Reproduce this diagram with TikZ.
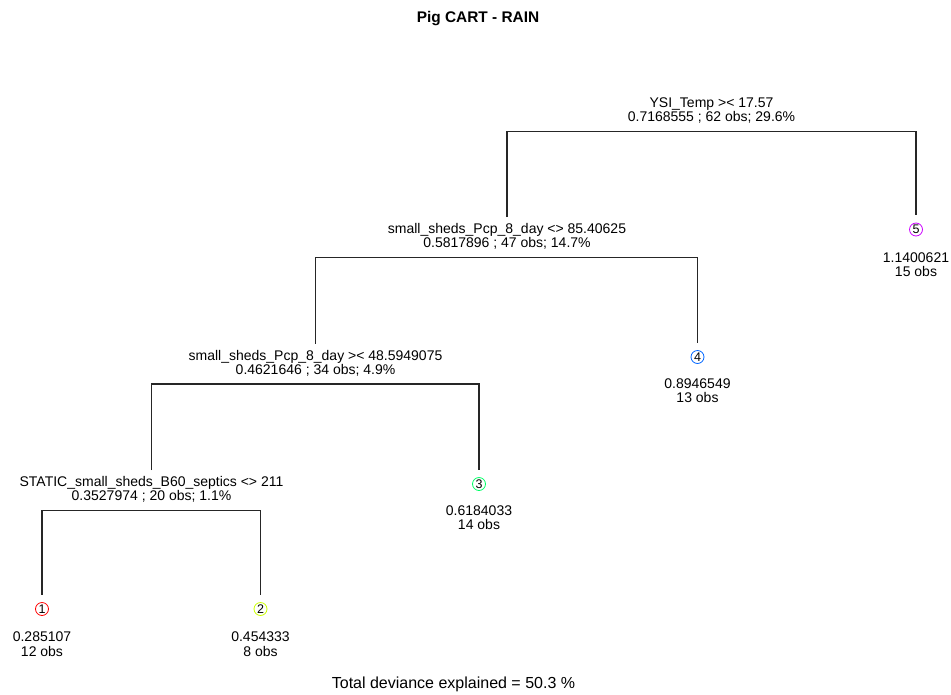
\documentclass[tikz,border=0pt]{standalone}
\usepackage{fontspec}
\setmainfont{Liberation Sans}
\begin{document}
\begin{tikzpicture}[x=1pt,y=-1pt,
  lbl/.style={font=\fontsize{14}{14}\selectfont, inner sep=0pt, anchor=base, text=black},
  edge/.style={line width=1.1pt, draw=black!85},
  leafc/.style={circle, draw=#1, line width=0.8pt, minimum size=13pt, inner sep=0pt,
    font=\fontsize{12.5}{12.5}\selectfont},
  ttl/.style={font=\bfseries\fontsize{15.4}{15.4}\selectfont, inner sep=0pt, anchor=base},
  foot/.style={font=\fontsize{16}{16}\selectfont, inner sep=0pt, anchor=base}]
\definecolor{r1}{HTML}{FF0000}
\definecolor{r2}{HTML}{CCFF00}
\definecolor{r3}{HTML}{00FF66}
\definecolor{r4}{HTML}{0066FF}
\definecolor{r5}{HTML}{CC00FF}
\useasboundingbox[fill=white] (0,0) rectangle (951,694);

\node[ttl] (title) at (478,22.7) {Pig CART - RAIN};
\node[foot] (footer) at (453.5,688) {Total deviance explained = 50.3 \%};

% split nodes
\node[lbl] (n1a) at (711.5,107.5) {YSI\_Temp >< 17.57};
\node[lbl] (n1b) at (711.5,121.5) {0.7168555 ; 62 obs; 29.6\%};
\coordinate (n1bar) at (711.5,131.5);

\node[lbl] (n2a) at (507,233.5) {small\_sheds\_Pcp\_8\_day <> 85.40625};
\node[lbl] (n2b) at (507,247.5) {0.5817896 ; 47 obs; 14.7\%};
\coordinate (n2bar) at (507,257.5);
\coordinate (n2top) at (507,217);

\node[lbl] (n3a) at (315.5,360) {small\_sheds\_Pcp\_8\_day >< 48.5949075};
\node[lbl] (n3b) at (315.5,374) {0.4621646 ; 34 obs; 4.9\%};
\coordinate (n3bar) at (315.5,384);
\coordinate (n3top) at (315.5,343.5);

\node[lbl] (n4a) at (151.5,486.5) {STATIC\_small\_sheds\_B60\_septics <> 211};
\node[lbl] (n4b) at (151.5,500.5) {0.3527974 ; 20 obs; 1.1\%};
\coordinate (n4bar) at (151.5,510.5);
\coordinate (n4top) at (151.5,470);

% leaves
\node[leafc=r1] (l1) at (42,609) {1};
\node[leafc=r2] (l2) at (260.5,609) {2};
\node[leafc=r3] (l3) at (479,484) {3};
\node[leafc=r4] (l4) at (697.5,357) {4};
\node[leafc=r5] (l5) at (916,229.5) {5};
\foreach \i in {1,...,5} {\coordinate (l\i top) at ([yshift=7.5pt]l\i.north);}

\node[lbl] (v1) at (42,641.5) {0.285107};
\node[lbl] (o1) at (42,656) {12 obs};
\node[lbl] (v2) at (260.5,641.5) {0.454333};
\node[lbl] (o2) at (260.5,656) {8 obs};
\node[lbl] (v3) at (479,515) {0.6184033};
\node[lbl] (o3) at (479,529.5) {14 obs};
\node[lbl] (v4) at (697.5,388) {0.8946549};
\node[lbl] (o4) at (697.5,402.5) {13 obs};
\node[lbl] (v5) at (916,262) {1.1400621};
\node[lbl] (o5) at (916,276.5) {15 obs};

% connectors
\draw[edge] (n2top) -- (n2top |- n1bar) -- (l5top |- n1bar) -- (l5top);
\draw[edge] (n3top) -- (n3top |- n2bar) -- (l4top |- n2bar) -- (l4top);
\draw[edge] (n4top) -- (n4top |- n3bar) -- (l3top |- n3bar) -- (l3top);
\draw[edge] (l1top) -- (l1top |- n4bar) -- (l2top |- n4bar) -- (l2top);
\end{tikzpicture}
\end{document}
